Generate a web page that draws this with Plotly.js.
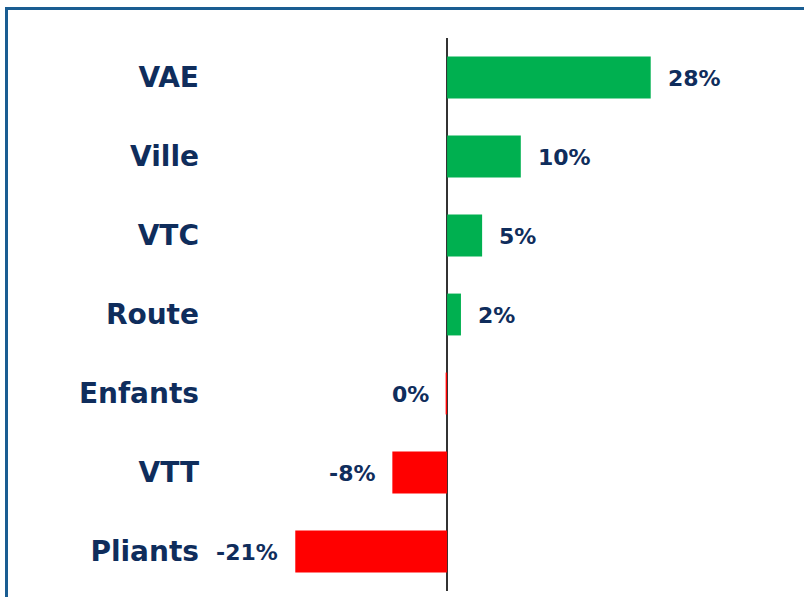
<!DOCTYPE html>
<html>
<head>
<meta charset="utf-8">
<script src="https://cdn.plot.ly/plotly-3.0.1.min.js"></script>
<style>
  html, body { margin: 0; padding: 0; background: #ffffff; overflow: hidden; }
  #wrap { position: relative; width: 804px; height: 597px; }
  #chart { position: absolute; left: 0; top: 0; width: 804px; height: 597px; }
  #frame { position: absolute; left: 5px; top: 7px; width: 900px; height: 700px;
           border-left: 3px solid #1a5d92; border-top: 3px solid #1a5d92; pointer-events: none; }
</style>
</head>
<body>
<div id="wrap">
  <div id="chart"></div>
  <div id="frame"></div>
</div>
<script>
const categories = ["VAE", "Ville", "VTC", "Route", "Enfants", "VTT", "Pliants"];
const values = [27.9, 10.1, 4.8, 1.9, -0.2, -7.5, -20.8];
const valueLabels = ["28%", "10%", "5%", "2%", "0%", "-8%", "-21%"];

const GREEN = "#00b050";
const RED = "#ff0000";
const NAVY = "#0f2d5c";
const FONT = "DejaVu Sans, sans-serif";

const colors = values.map(v => v >= 0 ? GREEN : RED);

const trace = {
  type: "bar",
  orientation: "h",
  y: categories,
  x: values,
  marker: { color: colors, line: { width: 0 } },
  hoverinfo: "none"
};

const annotations = categories.map((c, i) => ({
  x: values[i],
  y: c,
  xref: "x",
  yref: "y",
  text: valueLabels[i],
  showarrow: false,
  xanchor: values[i] >= 0 ? "left" : "right",
  xshift: values[i] >= 0 ? 15 : -15,
  yshift: -1,
  font: { family: FONT, size: 22, color: NAVY, weight: 700 }
}));

const layout = {
  width: 804,
  height: 597,
  margin: { l: 215, r: 19, t: 38, b: 6 },
  paper_bgcolor: "rgba(0,0,0,0)",
  plot_bgcolor: "rgba(0,0,0,0)",
  showlegend: false,
  bargap: 0.47,
  xaxis: {
    range: [-31.8, 46.3],
    showgrid: false,
    showticklabels: false,
    ticks: "",
    showline: false,
    zeroline: true,
    zerolinecolor: "#333333",
    zerolinewidth: 2,
    layer: "above traces",
    fixedrange: true
  },
  yaxis: {
    autorange: "reversed",
    showgrid: false,
    showline: false,
    zeroline: false,
    ticks: "",
    ticklabelstandoff: 15,
    tickfont: { family: FONT, size: 28, color: NAVY, weight: 700 },
    automargin: false,
    fixedrange: true
  },
  annotations: annotations,
  font: { family: FONT, color: NAVY }
};

Plotly.newPlot("chart", [trace], layout, { displayModeBar: false, staticPlot: true });
</script>
</body>
</html>
